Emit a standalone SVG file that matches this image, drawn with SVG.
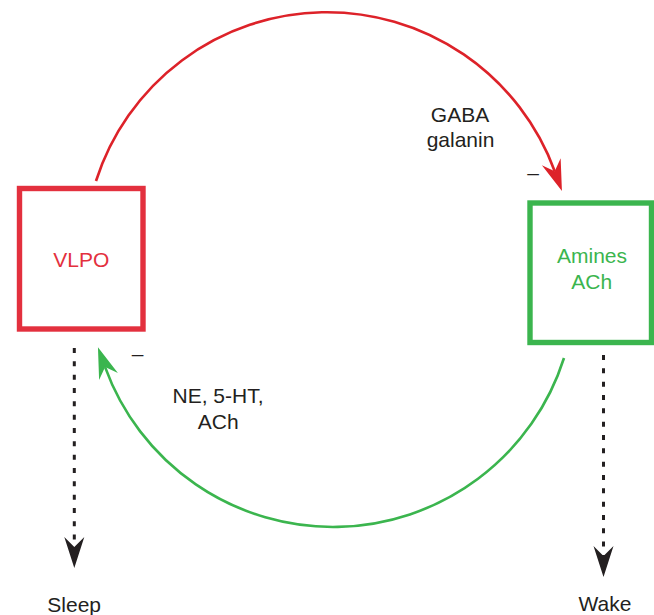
<svg xmlns="http://www.w3.org/2000/svg" width="654" height="615" viewBox="0 0 654 615">
  <style>
    text { font-family: "Liberation Sans", Arial, sans-serif; font-size: 21px; }
    .lbl { fill: #231f20; text-anchor: middle; }
    .minus { fill: #231f20; }
    .box-red { fill: #ffffff; stroke: #e3303e; stroke-width: 5.4; }
    .box-green { fill: #ffffff; stroke: #3bb54e; stroke-width: 5.4; }
    .t-red { fill: #e3303e; text-anchor: middle; }
    .t-green { fill: #3bb54e; text-anchor: middle; }
    .arc-red { fill: none; stroke: #dd2229; stroke-width: 2.6; }
    .arc-green { fill: none; stroke: #3bb54e; stroke-width: 2.6; }
    .dash { fill: none; stroke: #231f20; stroke-width: 3; stroke-dasharray: 5 8.33; }
  </style>
  <defs>
    <marker id="ah-red" viewBox="-32 -11 33 22" refX="-21" refY="0" markerWidth="33" markerHeight="22" markerUnits="userSpaceOnUse" orient="auto">
      <path d="M0,0 L-31,-10 L-21,0 L-31,10 Z" fill="#dd2229"/>
    </marker>
    <marker id="ah-green" viewBox="-32 -11 33 22" refX="-21" refY="0" markerWidth="33" markerHeight="22" markerUnits="userSpaceOnUse" orient="auto">
      <path d="M0,0 L-31,-10 L-21,0 L-31,10 Z" fill="#3bb54e"/>
    </marker>
    <marker id="ah-black" viewBox="-32 -11 33 22" refX="-21" refY="0" markerWidth="33" markerHeight="22" markerUnits="userSpaceOnUse" orient="auto">
      <path d="M0,0 L-31,-10 L-21,0 L-31,10 Z" fill="#231f20"/>
    </marker>
  </defs>

  <g id="connectors">
    <path class="arc-red" d="M 96 181 A 242.5 242.5 0 0 1 554.7 171.2" marker-end="url(#ah-red)"/>
    <path class="arc-green" d="M 564 358 A 242.4 242.4 0 0 1 105.1 367.1" marker-end="url(#ah-green)"/>
    <path class="dash" d="M 74.3 348 L 74.3 547" marker-end="url(#ah-black)"/>
    <path class="dash" d="M 603.5 355 L 603.5 556" marker-end="url(#ah-black)"/>
    <text class="lbl" x="460" y="121.7">GABA</text>
    <text class="lbl" x="460.5" y="146.7">galanin</text>
    <text class="minus" x="527.3" y="180.3">–</text>
    <text class="minus" x="131.7" y="361">–</text>
    <text class="lbl" x="218" y="403.3">NE, 5-HT,</text>
    <text class="lbl" x="218.3" y="429.3">ACh</text>
  </g>

  <g id="vlpo">
    <rect class="box-red" x="19.5" y="188.5" width="123.5" height="140.5"/>
    <text class="t-red" x="81.3" y="266.7">VLPO</text>
  </g>

  <g id="amines">
    <rect class="box-green" x="530" y="203" width="121.5" height="139.5"/>
    <text class="t-green" x="592" y="262.7">Amines</text>
    <text class="t-green" x="591.7" y="289">ACh</text>
  </g>

  <g id="sleep">
    <text class="lbl" x="74.2" y="611.7">Sleep</text>
  </g>

  <g id="wake">
    <text class="lbl" x="605" y="611">Wake</text>
  </g>
</svg>
